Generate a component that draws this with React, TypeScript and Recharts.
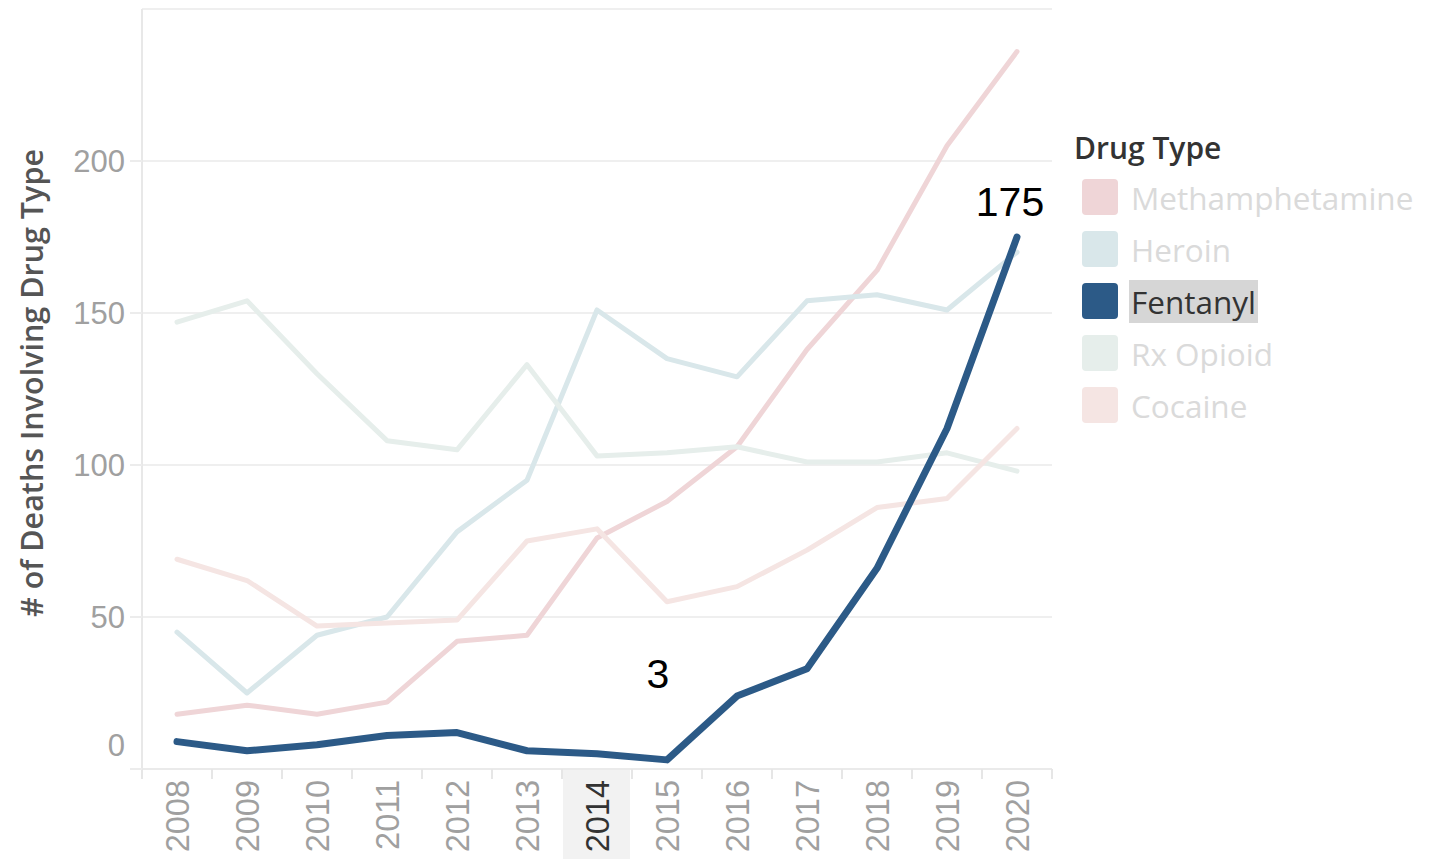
import React from 'react';
import { LineChart, Line, XAxis, YAxis, CartesianGrid, LabelList } from 'recharts';

const years = ['2008', '2009', '2010', '2011', '2012', '2013', '2014', '2015', '2016', '2017', '2018', '2019', '2020'];
const methamphetamine = [18, 21, 18, 22, 42, 44, 76, 88, 106, 138, 164, 205, 236];
const heroin = [45, 25, 44, 50, 78, 95, 151, 135, 129, 154, 156, 151, 170];
const fentanyl = [9, 6, 8, 11, 12, 6, 5, 3, 24, 33, 66, 112, 175];
const rxOpioid = [147, 154, 130, 108, 105, 133, 103, 104, 106, 101, 101, 104, 98];
const cocaine = [69, 62, 47, 48, 49, 75, 79, 55, 60, 72, 86, 89, 112];
const yTicks = [0, 50, 100, 150, 200];
const highlightedYear = '2014';
const labeledFentanylYears = ['2015', '2020'];

const series = [
  { key: 'methamphetamine', name: 'Methamphetamine', color: '#efd5d7', values: methamphetamine, active: false },
  { key: 'heroin', name: 'Heroin', color: '#d9e7ea', values: heroin, active: false },
  { key: 'fentanyl', name: 'Fentanyl', color: '#2c5a87', values: fentanyl, active: true },
  { key: 'rxOpioid', name: 'Rx Opioid', color: '#e6eeeb', values: rxOpioid, active: false },
  { key: 'cocaine', name: 'Cocaine', color: '#f5e5e3', values: cocaine, active: false },
];

const data = years.map((year, i) => {
  const row: Record<string, string | number> = { year };
  series.forEach((s) => {
    row[s.key] = s.values[i];
  });
  return row;
});

const TICK_FONT = '"Liberation Sans", Arial, sans-serif';
const UI_FONT = '"Open Sans", "Noto Sans", sans-serif';

const YTick = (props: any) => {
  const { x, y, payload } = props;
  const isZero = payload.value === 0;
  return (
    <g>
      <line x1={x - 12} x2={x} y1={y} y2={y} stroke="#ececec" strokeWidth={2} />
      <text
        x={x - 17}
        y={isZero ? y - 24 : y}
        dy="0.36em"
        textAnchor="end"
        fontSize={31}
        fontFamily={TICK_FONT}
        fill="#a0a0a0"
      >
        {payload.value}
      </text>
    </g>
  );
};

const XTick = (props: any) => {
  const { x, y, payload, index, visibleTicksCount } = props;
  const hl = payload.value === highlightedYear;
  const last = index === (visibleTicksCount ?? years.length) - 1;
  return (
    <g>
      {hl && <rect x={x - 34} y={y + 1} width={67} height={95} fill="#f2f2f2" />}
      <line x1={x - 35} x2={x - 35} y1={y} y2={y + 10} stroke="#e6e6e6" strokeWidth={2} />
      {last && <line x1={x + 35} x2={x + 35} y1={y} y2={y + 10} stroke="#e6e6e6" strokeWidth={2} />}
      <text
        x={x}
        y={y + 11}
        dy="0.36em"
        textAnchor="end"
        transform={`rotate(-90, ${x}, ${y + 11})`}
        fontSize={32.5}
        fontFamily={TICK_FONT}
        fill={hl ? '#333333' : '#a0a0a0'}
      >
        {payload.value}
      </text>
    </g>
  );
};

const FentanylLabel = (props: any) => {
  const { x, y, value, index } = props;
  const year = years[index];
  if (!labeledFentanylYears.includes(year)) return null;
  const isLast = index === years.length - 1;
  return (
    <text
      x={isLast ? x - 7 : x - 9}
      y={isLast ? y - 21 : y - 72}
      textAnchor="middle"
      fontSize={41}
      fontFamily={TICK_FONT}
      fill="#000000"
    >
      {value}
    </text>
  );
};

const YTitle = (props: any) => {
  const { viewBox } = props;
  const cx = 32;
  const cy = viewBox.y + viewBox.height / 2 - 6;
  return (
    <text
      x={cx}
      y={cy}
      transform={`rotate(-90, ${cx}, ${cy})`}
      textAnchor="middle"
      dy="0.36em"
      fontSize={30.5}
      fontWeight={600}
      fontFamily={UI_FONT}
      fill="#555555"
    >
      # of Deaths Involving Drug Type
    </text>
  );
};

const LegendBox = () => (
  <div style={{ position: 'absolute', left: 1074, top: 126, fontFamily: UI_FONT }}>
    <div style={{ fontSize: 30, fontWeight: 600, color: '#333333', lineHeight: '44px', height: 44 }}>Drug Type</div>
    {series.map((s, i) => (
      <div
        key={s.key}
        style={{ position: 'absolute', left: 0, top: 53 + i * 52, height: 36, width: 380, display: 'flex', alignItems: 'center' }}
      >
        <div style={{ marginLeft: 8, width: 36, height: 36, borderRadius: 4, background: s.color }} />
        <div
          style={{
            marginLeft: 11,
            fontSize: 31.5,
            lineHeight: '43px',
            height: 43,
            padding: '0 2px',
            color: s.active ? '#333333' : '#dadada',
            background: s.active ? '#d6d6d6' : 'transparent',
            whiteSpace: 'nowrap',
          }}
        >
          {s.name}
        </div>
      </div>
    ))}
  </div>
);

export default function App() {
  return (
    <div style={{ position: 'absolute', left: 0, top: 0, width: 1443, height: 859, background: '#ffffff', overflow: 'hidden' }}>
      <LineChart width={1443} height={859} data={data} margin={{ top: 9, right: 391, bottom: 0, left: 0 }}>
        <CartesianGrid vertical={false} stroke="#efefef" strokeWidth={2} />
        <XAxis
          dataKey="year"
          padding={{ left: 35, right: 35 }}
          height={90}
          tickSize={0}
          tickMargin={0}
          interval={0}
          axisLine={{ stroke: '#eaeaea', strokeWidth: 2 }}
          tick={<XTick />}
        />
        <YAxis
          domain={[0, 250]}
          ticks={yTicks}
          width={142}
          tickSize={0}
          tickMargin={0}
          interval={0}
          axisLine={{ stroke: '#e8e8e8', strokeWidth: 2 }}
          tick={<YTick />}
          label={<YTitle />}
        />
        {series
          .filter((s) => !s.active)
          .map((s) => (
            <Line
              key={s.key}
              type="linear"
              dataKey={s.key}
              name={s.name}
              stroke={s.color}
              strokeWidth={5}
              dot={false}
              activeDot={false}
              isAnimationActive={false}
              strokeLinejoin="round"
              strokeLinecap="round"
            />
          ))}
        {series
          .filter((s) => s.active)
          .map((s) => (
            <Line
              key={s.key}
              type="linear"
              dataKey={s.key}
              name={s.name}
              stroke={s.color}
              strokeWidth={7}
              dot={false}
              activeDot={false}
              isAnimationActive={false}
              strokeLinejoin="round"
              strokeLinecap="round"
            >
              <LabelList dataKey={s.key} content={<FentanylLabel />} />
            </Line>
          ))}
      </LineChart>
      <LegendBox />
    </div>
  );
}
